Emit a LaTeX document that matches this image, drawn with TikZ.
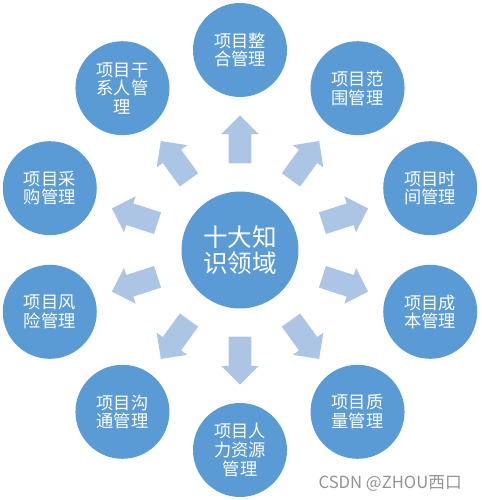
\documentclass[tikz,border=0pt]{standalone}
\usepackage{fontspec}
\setmainfont{Noto Sans CJK SC}
\usetikzlibrary{shapes.arrows}
\definecolor{areablue}{RGB}{91,155,213}
\definecolor{arrowblue}{RGB}{173,197,229}

\begin{document}
\begin{tikzpicture}[x=0.02cm,y=0.02cm,
  hub/.style={circle,fill=areablue,text=white,minimum size=2.34cm,inner sep=0pt,
    align=center,font=\fontsize{14}{15}\selectfont},
  area/.style={circle,fill=areablue,text=white,minimum size=1.88cm,inner sep=0pt,
    align=center,font=\fontsize{9.8}{10.6}\selectfont},
  spoke/.style={single arrow,fill=arrowblue,minimum height=0.96cm,
    inner xsep=0pt,inner ysep=0.22cm,single arrow head extend=0.15cm}]
  \useasboundingbox (-240,-250) rectangle (241,250);
  % centre
  \node[hub] (hub) at (0,0) {十大知\\识领域};
  % ten knowledge areas with their arrows
  \foreach \a/\t [count=\i] in {90/{项目整\\合管理},54/{项目范\\围管理},
      18/{项目时\\间管理},-18/{项目成\\本管理},-54/{项目质\\量管理},
      -90/{项目人\\力资源\\管理},-126/{项目沟\\通管理},-162/{项目风\\险管理},
      162/{项目采\\购管理},126/{项目干\\系人管\\理}}
  {
    \node[area] (area\i) at (\a:200) {\t};
    \node[spoke,rotate=\a] (spoke\i) at (\a:105) {};
  }
  \node[anchor=east,text=gray!85,font=\fontsize{9.5}{10}\selectfont] (mark)
    at (228,-233) {CSDN @ZHOU西口};
\end{tikzpicture}
\end{document}
